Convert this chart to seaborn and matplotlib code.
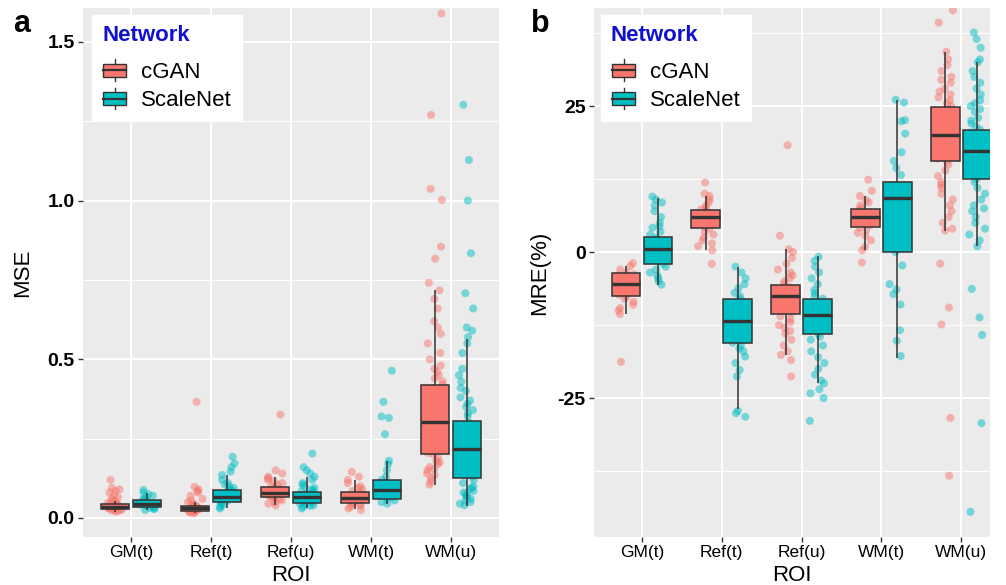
import numpy as np
import pandas as pd
import matplotlib
matplotlib.use("Agg")
import matplotlib.pyplot as plt
import seaborn as sns
from matplotlib.patches import Patch, Rectangle
from matplotlib.lines import Line2D
from matplotlib.legend_handler import HandlerBase
from matplotlib.ticker import FixedLocator

plt.rcParams["font.family"] = ["Liberation Sans", "DejaVu Sans"]
plt.rcParams["axes.unicode_minus"] = False

rois = ["GM(t)", "Ref(t)", "Ref(u)", "WM(t)", "WM(u)"]
networks = ["cGAN", "ScaleNet"]
palette = ["#F8766D", "#00BFC4"]

# ---- box statistics: [whisker low, Q1, median, Q3, whisker high]
mse_box_cgan = [
    [0.020, 0.028, 0.035, 0.044, 0.055],
    [0.015, 0.023, 0.030, 0.038, 0.050],
    [0.040, 0.065, 0.080, 0.097, 0.130],
    [0.028, 0.048, 0.064, 0.083, 0.120],
    [0.104, 0.203, 0.301, 0.418, 0.717],
]
mse_box_scalenet = [
    [0.025, 0.034, 0.044, 0.057, 0.080],
    [0.030, 0.050, 0.067, 0.088, 0.135],
    [0.030, 0.048, 0.065, 0.083, 0.130],
    [0.045, 0.059, 0.088, 0.119, 0.180],
    [0.038, 0.127, 0.216, 0.305, 0.565],
]
mre_box_cgan = [
    [-10.6, -7.5, -5.5, -3.5, -2.4],
    [0.3, 4.2, 6.0, 7.2, 9.6],
    [-17.6, -10.6, -7.5, -5.7, 0.5],
    [0.3, 4.3, 6.0, 7.3, 9.6],
    [3.6, 15.6, 20.1, 24.8, 34.3],
]
mre_box_scalenet = [
    [-5.6, -2.1, 0.6, 2.5, 9.2],
    [-26.8, -15.6, -11.8, -8.0, -2.5],
    [-22.5, -14.0, -10.8, -8.0, -0.7],
    [-18.1, 0.0, 9.2, 12.0, 26.1],
    [1.0, 12.5, 17.3, 20.9, 32.5],
]

# ---- individual points
mse_pts_cgan = [
    [0.020, 0.022, 0.024, 0.025, 0.026, 0.028, 0.030, 0.030, 0.032, 0.034, 0.035, 0.036,
     0.038, 0.040, 0.042, 0.044, 0.046, 0.050, 0.052, 0.055, 0.060, 0.065, 0.072, 0.080,
     0.085, 0.090, 0.095, 0.120],
    [0.015, 0.017, 0.018, 0.020, 0.022, 0.023, 0.025, 0.027, 0.028, 0.030, 0.030, 0.032,
     0.034, 0.036, 0.038, 0.040, 0.045, 0.050, 0.055, 0.060, 0.070, 0.080, 0.085, 0.090,
     0.098, 0.366],
    [0.040, 0.045, 0.050, 0.055, 0.060, 0.062, 0.065, 0.068, 0.070, 0.072, 0.075, 0.078,
     0.080, 0.082, 0.085, 0.088, 0.090, 0.092, 0.095, 0.100, 0.105, 0.110, 0.115, 0.120,
     0.125, 0.130, 0.140, 0.150, 0.326],
    [0.025, 0.030, 0.035, 0.040, 0.042, 0.045, 0.048, 0.050, 0.055, 0.058, 0.060, 0.063,
     0.066, 0.070, 0.075, 0.080, 0.085, 0.090, 0.095, 0.100, 0.110, 0.120, 0.130, 0.145],
    [0.105, 0.115, 0.125, 0.135, 0.140, 0.150, 0.155, 0.160, 0.170, 0.175, 0.180, 0.190,
     0.200, 0.205, 0.210, 0.220, 0.230, 0.240, 0.250, 0.260, 0.270, 0.280, 0.290, 0.300,
     0.310, 0.320, 0.330, 0.340, 0.350, 0.360, 0.370, 0.380, 0.390, 0.400, 0.410, 0.420,
     0.430, 0.440, 0.450, 0.460, 0.470, 0.480, 0.500, 0.520, 0.550, 0.580, 0.600, 0.620,
     0.660, 0.690, 0.717, 0.741, 0.817, 0.855, 1.002, 1.037, 1.270, 1.590],
]
mse_pts_scalenet = [
    [0.025, 0.028, 0.030, 0.032, 0.035, 0.037, 0.040, 0.042, 0.044, 0.046, 0.048, 0.050,
     0.052, 0.055, 0.058, 0.060, 0.065, 0.070, 0.075, 0.080, 0.088],
    [0.030, 0.035, 0.040, 0.045, 0.050, 0.050, 0.055, 0.058, 0.060, 0.062, 0.065, 0.067,
     0.070, 0.072, 0.075, 0.078, 0.080, 0.085, 0.088, 0.090, 0.095, 0.100, 0.105, 0.110,
     0.120, 0.135, 0.146, 0.160, 0.172, 0.193],
    [0.030, 0.035, 0.038, 0.040, 0.042, 0.045, 0.048, 0.050, 0.052, 0.055, 0.058, 0.060,
     0.062, 0.065, 0.068, 0.070, 0.073, 0.076, 0.080, 0.083, 0.087, 0.090, 0.095, 0.100,
     0.105, 0.110, 0.120, 0.130, 0.140, 0.150, 0.160, 0.203],
    [0.045, 0.050, 0.055, 0.060, 0.065, 0.070, 0.075, 0.080, 0.085, 0.090, 0.095, 0.100,
     0.105, 0.110, 0.120, 0.130, 0.150, 0.170, 0.180, 0.264, 0.315, 0.320, 0.366, 0.464],
    [0.040, 0.045, 0.050, 0.055, 0.060, 0.065, 0.070, 0.075, 0.080, 0.085, 0.090, 0.095,
     0.100, 0.110, 0.120, 0.130, 0.140, 0.150, 0.160, 0.170, 0.180, 0.190, 0.200, 0.210,
     0.220, 0.230, 0.240, 0.250, 0.260, 0.270, 0.280, 0.290, 0.300, 0.320, 0.330, 0.340,
     0.350, 0.360, 0.370, 0.380, 0.400, 0.410, 0.430, 0.450, 0.470, 0.520, 0.550, 0.570,
     0.590, 0.600, 0.660, 0.708, 0.834, 1.000, 1.128, 1.302],
]
mre_pts_cgan = [
    [-1.9, -2.4, -3.0, -3.5, -3.8, -4.0, -4.3, -4.6, -5.0, -5.3, -5.5, -5.8, -6.0, -6.3,
     -6.6, -7.0, -7.3, -7.6, -8.0, -8.5, -9.0, -9.6, -10.0, -10.6, -18.8],
    [0.3, 1.0, 1.5, 2.0, 2.5, 3.0, 3.5, 4.0, 4.3, 4.6, 5.0, 5.3, 5.6, 6.0, 6.3, 6.6, 7.0,
     7.3, 7.6, 8.0, 8.5, 9.0, 9.6, 10.0, 11.9, -2.0],
    [18.3, 2.8, 0.5, 0.0, -1.0, -2.0, -3.0, -3.5, -4.0, -4.5, -5.0, -5.5, -6.0, -6.5,
     -7.0, -7.5, -8.0, -8.5, -9.0, -9.5, -10.0, -10.5, -11.0, -11.5, -12.0, -12.5, -13.0,
     -13.5, -14.0, -15.0, -16.0, -17.0, -17.6, -18.5, -21.3],
    [12.4, 10.5, 9.6, 8.9, 8.5, 8.0, 7.5, 7.2, 7.0, 6.6, 6.3, 6.0, 5.7, 5.4, 5.0, 4.6,
     4.2, 3.8, 3.3, 2.8, 2.0, 0.9, 0.3, -1.8],
    [41.4, 39.3, 34.3, 33.0, 32.0, 31.0, 30.0, 29.5, 29.0, 28.0, 27.5, 27.0, 26.5, 26.0,
     25.5, 25.0, 24.5, 24.0, 23.5, 23.0, 22.5, 22.0, 21.5, 21.0, 20.5, 20.0, 19.5, 19.0,
     18.5, 18.0, 17.5, 17.0, 16.5, 16.0, 15.5, 15.0, 14.0, 13.0, 12.0, 11.5, 11.0, 10.0,
     9.0, 8.0, 7.0, 6.0, 5.0, 4.0, 3.7, -2.0, -9.5, -12.4, -28.4, -38.3],
]
mre_pts_scalenet = [
    [-5.6, -5.0, -4.5, -4.0, -3.5, -3.0, -2.5, -2.0, -1.5, -1.0, -0.5, 0.0, 0.5, 1.0, 1.5,
     2.0, 2.5, 3.0, 3.5, 4.2, 4.4, 5.0, 6.0, 7.0, 8.0, 8.5, 9.0, 9.5],
    [-2.5, -3.5, -4.5, -5.5, -6.2, -7.0, -7.5, -8.0, -8.5, -9.0, -9.5, -10.0, -10.5, -11.0,
     -11.5, -12.0, -12.5, -13.0, -13.5, -14.0, -14.5, -15.0, -15.5, -16.0, -16.5, -17.0,
     -17.9, -19.0, -20.2, -21.3, -27.2, -27.6, -28.2],
    [-0.8, -1.5, -2.5, -3.5, -4.5, -5.5, -6.5, -7.0, -7.5, -8.0, -8.5, -9.0, -9.5, -10.0,
     -10.5, -11.0, -11.5, -12.0, -12.5, -13.0, -13.5, -14.0, -14.5, -15.0, -16.0, -17.0,
     -18.0, -19.0, -20.0, -21.0, -22.0, -22.5, -23.5, -24.2, -25.0, -28.9],
    [26.1, 25.6, 22.6, 22.4, 20.3, 17.1, 15.6, 14.4, 13.2, 11.0, 10.0, 9.5, 9.0, 8.0, 6.0,
     5.0, 3.0, 1.0, 0.0, -2.3, -5.5, -6.4, -7.2, -9.0, -13.4, -15.2, -17.8],
    [37.6, 36.5, 35.0, 33.0, 32.5, 31.0, 30.0, 29.0, 28.0, 27.0, 26.0, 25.5, 25.0, 24.5,
     24.0, 23.0, 22.5, 22.0, 21.5, 21.0, 20.5, 20.0, 19.5, 19.0, 18.5, 18.0, 17.5, 17.0,
     16.5, 16.0, 15.5, 15.0, 14.5, 14.0, 13.5, 13.0, 12.5, 12.0, 11.0, 10.0, 9.0, 8.0, 7.5,
     7.0, 6.0, 5.0, 4.0, 3.0, 2.0, 1.0, -6.3, -11.2, -14.2, -29.3, -44.5],
]

mse_ticks = [0.0, 0.5, 1.0, 1.5]
mse_tick_labels = ["0.0", "0.5", "1.0", "1.5"]
mse_minor = [0.25, 0.75, 1.25]
mre_ticks = [-25, 0, 25]
mre_tick_labels = ["-25", "0", "25"]
mre_minor = [-37.5, -12.5, 12.5, 37.5]


def long_frame(per_net):
    rows = []
    for net, groups in zip(networks, per_net):
        for roi, vals in zip(rois, groups):
            for v in vals:
                rows.append({"ROI": roi, "Network": net, "value": v})
    return pd.DataFrame(rows)


class BoxHandler(HandlerBase):
    def create_artists(self, legend, orig_handle, xdescent, ydescent, width, height,
                       fontsize, trans):
        fc = orig_handle.get_facecolor()
        x0, y0 = -xdescent, -ydescent
        ec = "#333333"
        bw = width * 0.9
        bx = x0 + (width - bw) / 2
        rect = Rectangle((bx, y0 + height * 0.18), bw, height * 0.64, facecolor=fc,
                         edgecolor=ec, lw=1.0, transform=trans)
        med = Line2D([bx, bx + bw], [y0 + height * 0.5] * 2, color=ec, lw=1.6,
                     transform=trans)
        wt = Line2D([x0 + width / 2] * 2, [y0 + height * 0.82, y0 + height * 1.05],
                    color=ec, lw=1.0, transform=trans)
        wb = Line2D([x0 + width / 2] * 2, [y0 - height * 0.05, y0 + height * 0.18],
                    color=ec, lw=1.0, transform=trans)
        return [wt, wb, rect, med]


fig = plt.figure(figsize=(10.06, 5.85), dpi=100)
W, H = 1006, 585
ax_a = fig.add_axes([83 / W, (H - 537) / H, (499 - 83) / W, (537 - 8) / H])
ax_b = fig.add_axes([594 / W, (H - 537) / H, (990 - 594) / W, (537 - 8) / H])

np.random.seed(3)

panels = [
    (ax_a, mse_box_cgan, mse_box_scalenet, mse_pts_cgan, mse_pts_scalenet, "MSE",
     (-0.06, 1.607), (-0.6, 4.6), mse_ticks, mse_tick_labels, mse_minor, "a", 13),
    (ax_b, mre_box_cgan, mre_box_scalenet, mre_pts_cgan, mre_pts_scalenet, "MRE(%)",
     (-48.8, 41.8), (-0.6, 4.36), mre_ticks, mre_tick_labels, mre_minor, "b", 531),
]

for (ax, bc, bs, pc, ps, ylab, ylim, xlim, ticks, tlabels, minor, letter, lx) in panels:
    ax.set_facecolor("#EBEBEB")
    box_df = long_frame([bc, bs])
    pts_df = long_frame([pc, ps])
    sns.stripplot(data=pts_df, x="ROI", y="value", hue="Network", order=rois,
                  hue_order=networks, palette=palette, dodge=True, jitter=0.2,
                  size=5.8, alpha=0.5, linewidth=0, legend=False, ax=ax, zorder=1.5)
    sns.boxplot(data=box_df, x="ROI", y="value", hue="Network", order=rois,
                hue_order=networks, palette=palette, saturation=1, width=0.8, gap=0.1,
                whis=np.inf, showfliers=False, linecolor="#333333", linewidth=1.1,
                medianprops={"linewidth": 2.4}, capprops={"visible": False},
                legend=False, ax=ax, zorder=2.5)
    ax.set_xlim(*xlim)
    ax.set_ylim(*ylim)
    ax.set_yticks(ticks)
    ax.set_yticklabels(tlabels, fontsize=14, fontweight="bold", color="black")
    ax.yaxis.set_minor_locator(FixedLocator(minor))
    ax.set_xticks(range(len(rois)))
    ax.set_xticklabels(rois, fontsize=12.5, color="black")
    ax.set_axisbelow(True)
    ax.grid(which="major", color="white", linewidth=1.4, zorder=0)
    ax.grid(which="minor", axis="y", color="white", linewidth=0.7, zorder=0)
    ax.tick_params(which="major", length=3.5, width=1.0, color="#333333", pad=2.5)
    ax.tick_params(which="minor", length=0)
    for s in ax.spines.values():
        s.set_visible(False)
    ax.set_xlabel("ROI", fontsize=16, color="black")
    ax.set_ylabel(ylab, fontsize=16, color="black")
    ax.xaxis.set_label_coords(0.5, -0.052)
    handles = [Patch(facecolor=c, edgecolor="#333333") for c in palette]
    leg = ax.legend(handles, networks, handler_map={Patch: BoxHandler()},
                    title="Network", loc="upper left",
                    bbox_to_anchor=(9 / 416 if letter == "a" else 7 / 396, 0.987),
                    borderaxespad=0, frameon=True, fancybox=False, framealpha=1,
                    facecolor="white", edgecolor="white", fontsize=16,
                    handlelength=1.15, handleheight=1.0, handletextpad=0.6,
                    labelspacing=0.25, borderpad=0.45, alignment="left")
    leg._legend_box.sep = 10.5
    leg.get_title().set_fontsize(16)
    leg.get_title().set_fontweight("bold")
    leg.get_title().set_color("#1010D0")
    fig.text(lx / W, 1 - 31.5 / H, letter, fontsize=22, fontweight="bold",
             va="baseline", ha="left")

ax_a.yaxis.set_label_coords(-0.121, 0.5)
ax_b.yaxis.set_label_coords(-0.111, 0.5)

fig.savefig("out.png", dpi=100)
